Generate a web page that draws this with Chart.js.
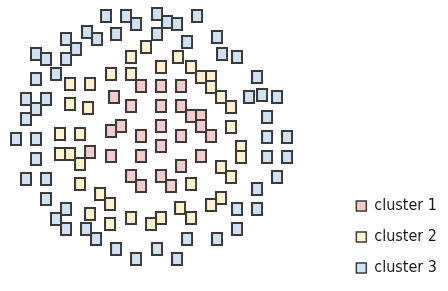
<!DOCTYPE html>
<html>
<head>
<meta charset="utf-8">
<script src="https://cdn.jsdelivr.net/npm/chart.js@4"></script>
<style>
  html, body { margin: 0; padding: 0; background: #fff; }
  #wrap { position: relative; width: 448px; height: 291px; }
</style>
</head>
<body>
<div id="wrap"><canvas id="chart"></canvas></div>
<script>
// values (x to the right, y downwards)
const cluster1X = [141, 161, 181, 114, 131, 161, 181, 191, 201, 201, 211, 161, 121, 111, 141, 181, 161, 90, 111, 141, 201, 181, 131, 141, 161, 171];
const cluster1Y = [86, 86, 86, 97, 106, 106, 106, 116, 116, 126, 136, 126, 126, 131, 136, 136, 146, 152, 156, 156, 156, 166, 176, 186, 176, 186];

const cluster2X = [146, 131, 178, 161, 191, 111, 131, 201, 211, 211, 70, 90, 221, 70, 88, 231, 231, 60, 80, 241, 241, 60, 70, 80, 221, 231, 80, 191, 100, 110, 221, 211, 90, 180, 191, 110, 131, 151, 161];
const cluster2Y = [47, 57, 57, 67, 67, 74, 74, 77, 77, 87, 84, 84, 97, 104, 108, 107, 127, 134, 134, 147, 157, 154, 154, 164, 167, 177, 184, 184, 194, 204, 198, 205, 214, 208, 218, 224, 218, 224, 218];

const cluster3X = [106, 126, 157, 197, 136, 167, 177, 87, 97, 116, 157, 217, 66, 187, 76, 36, 46, 66, 222, 237, 56, 36, 257, 26, 46, 36, 26, 249, 262, 277, 267, 16, 36, 267, 287, 36, 267, 287, 26, 46, 277, 46, 257, 66, 56, 66, 237, 257, 86, 96, 237, 116, 136, 157, 177, 187, 217];
const cluster3Y = [16, 16, 14, 16, 24, 22, 24, 32, 39, 34, 34, 37, 39, 42, 49, 54, 59, 59, 54, 57, 74, 79, 77, 99, 99, 109, 119, 97, 95, 97, 117, 139, 139, 137, 137, 159, 157, 157, 179, 179, 177, 199, 189, 209, 219, 229, 209, 209, 229, 239, 229, 249, 259, 249, 259, 239, 239];

const seriesNames = ['cluster 1', 'cluster 2', 'cluster 3'];
const seriesColors = ['#f4cccc', '#fff2cc', '#cfe2f3'];
const edgeColor = '#3a3a3a';

function toPoints(xs, ys) {
    return xs.map((x, i) => ({ x: x, y: ys[i] }));
}

// little rectangle used as the marker
function makeMarker(fill) {
    const c = document.createElement('canvas');
    c.width = 12;
    c.height = 14;
    const g = c.getContext('2d');
    g.fillStyle = fill;
    g.fillRect(0, 0, 12, 14);
    g.strokeStyle = edgeColor;
    g.lineWidth = 2;
    g.strokeRect(1, 1, 10, 12);
    return c;
}

const allX = [cluster1X, cluster2X, cluster3X];
const allY = [cluster1Y, cluster2Y, cluster3Y];

const datasets = seriesNames.map((name, i) => ({
    label: name,
    data: toPoints(allX[i], allY[i]),
    backgroundColor: seriesColors[i],
    borderColor: edgeColor,
    borderWidth: 1.5,
    pointStyle: makeMarker(seriesColors[i]),
    pointRadius: 6,
    clip: false
}));

new Chart(document.getElementById('chart'), {
    type: 'scatter',
    data: { datasets: datasets },
    options: {
        responsive: true,
        maintainAspectRatio: false,
        animation: false,
        layout: { autoPadding: false, padding: { left: 0, top: 0, right: 1, bottom: 0 } },
        scales: {
            x: { type: 'linear', display: false, min: 0, max: 341.3 },
            y: { type: 'linear', display: false, min: 0, max: 291, reverse: true }
        },
        plugins: {
            legend: {
                position: 'right',
                align: 'end',
                labels: {
                    boxWidth: 10,
                    boxHeight: 10,
                    padding: 15,
                    color: '#1a1a1a',
                    font: { family: 'DejaVu Sans Condensed', size: 16 }
                }
            },
            tooltip: { enabled: false }
        }
    }
});
</script>
</body>
</html>
